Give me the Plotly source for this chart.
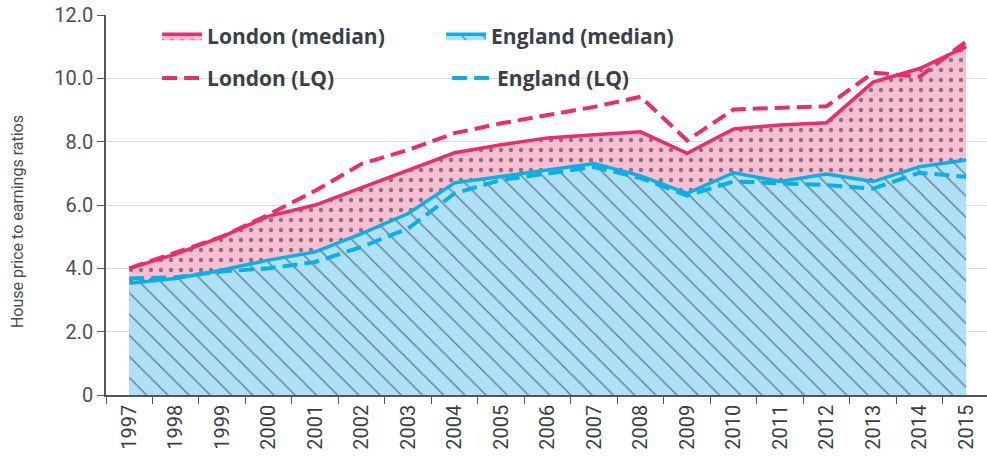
import plotly.graph_objects as go

years = [str(y) for y in range(1997, 2016)]
london_median = [4.0, 4.45, 5.0, 5.65, 6.0, 6.55, 7.1, 7.65, 7.9, 8.12, 8.22, 8.31, 7.63, 8.4, 8.53, 8.6, 9.88, 10.31, 11.0]
london_lq = [4.0, 4.5, 5.0, 5.7, 6.45, 7.3, 7.74, 8.27, 8.58, 8.84, 9.1, 9.42, 8.04, 9.02, 9.07, 9.12, 10.18, 10.05, 11.16]
england_median = [3.53, 3.68, 3.95, 4.26, 4.52, 5.1, 5.73, 6.7, 6.9, 7.1, 7.31, 6.92, 6.37, 7.02, 6.74, 6.98, 6.74, 7.21, 7.42]
england_lq = [3.68, 3.72, 3.9, 4.0, 4.2, 4.68, 5.26, 6.37, 6.79, 7.0, 7.2, 6.85, 6.3, 6.74, 6.68, 6.63, 6.52, 7.02, 6.89]
ytick_vals = [0, 2, 4, 6, 8, 10, 12]
ytick_text = ["0", "2.0", "4.0", "6.0", "8.0", "10.0", "12.0"]
y_title = "House price to earnings ratios"

PINK = "#ec2c6c"
BLUE = "#0aaee8"
PINK_FILL = "#f8bfd3"
BLUE_FILL = "#aee1f8"
DARK = "#3a4048"

fig = go.Figure()
fig.add_trace(go.Scatter(
    x=years, y=london_median, name="London (median)", mode="lines",
    line=dict(color=PINK, width=3.5), fill="tozeroy", fillcolor=PINK_FILL,
    fillpattern=dict(shape=".", bgcolor=PINK_FILL, fgcolor="#24242c", size=10, solidity=0.15),
    legend="legend"))
fig.add_trace(go.Scatter(
    x=years, y=england_median, name="England (median)", mode="lines",
    line=dict(color=BLUE, width=3.5), fill="tozeroy", fillcolor=BLUE_FILL,
    fillpattern=dict(shape="\\", bgcolor=BLUE_FILL, fgcolor="#222222", size=15, solidity=0.1),
    legend="legend"))
fig.add_trace(go.Scatter(
    x=years, y=london_lq, name="London (LQ)", mode="lines",
    line=dict(color=PINK, width=4, dash="15px,7px"), legend="legend2"))
fig.add_trace(go.Scatter(
    x=years, y=england_lq, name="England (LQ)", mode="lines",
    line=dict(color=BLUE, width=4, dash="15px,7px"), legend="legend2"))

legend_font = dict(family="Open Sans", size=21, color=DARK, weight="bold")
fig.update_layout(
    width=987, height=468,
    margin=dict(l=106, r=0, t=15, b=73),
    paper_bgcolor="white", plot_bgcolor="white",
    font=dict(family="Roboto", size=20, color="#4a4f55"),
    showlegend=True,
    legend=dict(orientation="h", x=0.058, y=0.997, xanchor="left", yanchor="top",
                entrywidth=229, entrywidthmode="pixels", itemwidth=40,
                font=legend_font, bgcolor="rgba(0,0,0,0)"),
    legend2=dict(orientation="h", x=0.058, y=0.887, xanchor="left", yanchor="top",
                 entrywidth=235, entrywidthmode="pixels", itemwidth=40,
                 font=legend_font, bgcolor="rgba(0,0,0,0)"),
    xaxis=dict(type="category", range=[-0.5, 18.45], tickangle=-90, automargin=False,
               showline=True, linecolor="#555", linewidth=1.5,
               ticks="outside", tickson="boundaries", ticklen=7, tickcolor="#555",
               showgrid=False, tickfont=dict(size=20, color="#3a3f45")),
    yaxis=dict(range=[0, 12.001], tickvals=ytick_vals, ticktext=ytick_text, automargin=False,
               ticklabeloverflow="allow",
               showline=True, linecolor="#555", linewidth=1.5,
               ticks="outside", ticklen=7, tickcolor="#555",
               gridcolor="#dcdcdc", gridwidth=1.2, zeroline=False,
               tickfont=dict(size=20, color="#4a4f55")),
    annotations=[dict(text=y_title, xref="paper", yref="paper", x=-0.101, y=0.455,
                      xanchor="center", yanchor="middle", textangle=-90, showarrow=False,
                      font=dict(family="Roboto", size=16, color="#4a4f55"))],
)
fig.write_html("out.html", config={"displayModeBar": False},
               post_script="document.body.style.margin='0';")
